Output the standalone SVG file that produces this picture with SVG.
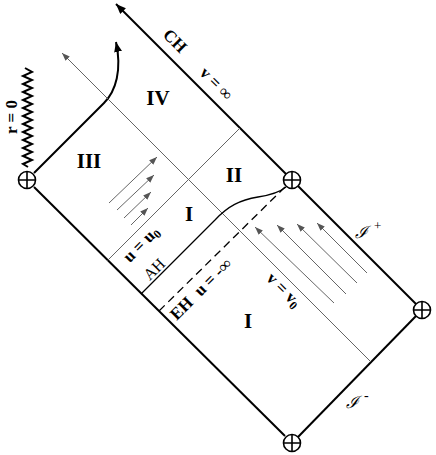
<svg xmlns="http://www.w3.org/2000/svg" width="436" height="455" viewBox="0 0 436 455">
<style>
.thick{stroke:#000;stroke-width:2;fill:none}
.thin{stroke:#666;stroke-width:1;fill:none}
.garr{stroke:#666;stroke-width:1;fill:none;marker-end:url(#ga)}
.blk{stroke:#000;stroke-width:1.3;fill:none}
.reg{font-family:"Liberation Serif",serif;font-weight:bold;font-size:21px;text-anchor:middle}
.lab{font-family:"Liberation Serif",serif;font-weight:bold;font-size:17px;text-anchor:middle}
.labn{font-family:"Liberation Serif",serif;font-size:16px;text-anchor:middle}
.scri{font-family:"DejaVu Serif",serif;font-style:italic;font-size:17px}
.pt circle{fill:#fff;stroke:#000;stroke-width:1.6}
.pt path{stroke:#000;stroke-width:1.6}
</style>
<defs>
<marker id="ga" markerUnits="userSpaceOnUse" markerWidth="10" markerHeight="8" refX="8" refY="3" orient="auto">
<path d="M0,0 L8,3 L0,6 Z" fill="#555"/>
</marker>
<marker id="ba" markerUnits="userSpaceOnUse" markerWidth="12" markerHeight="10" refX="10" refY="4" orient="auto">
<path d="M0,0 L10,4 L0,8 Z" fill="#000"/>
</marker>
</defs>
<g id="connectors">
<polyline class="thick" stroke-width="1.8" points="25,68 32,72 23,76 32,80 23,84 32,88 23,92 32,96 23,100 32,104 23,108 32,112 23,116 32,120 23,124 32,128 23,132 32,136 23,140 32,144 23,148 32,152 23,156 32,160 23,164 28,167"/>
<path class="thick" d="M34,173 L104,103 C116,91 122,70 116,42" marker-end="url(#ba)"/>
<line class="thick" x1="286" y1="174" x2="116" y2="4" marker-end="url(#ba)"/>
<line class="thick" x1="34" y1="187" x2="285" y2="436"/>
<line class="thick" x1="298" y1="186" x2="416" y2="304"/>
<line class="thick" x1="416" y1="316" x2="298" y2="437"/>
<line class="thin" x1="370.5" y1="361.5" x2="62" y2="53" marker-end="url(#ga)"/>
<line class="thin" x1="240" y1="128" x2="107.5" y2="260.5"/>
<path class="blk" d="M141,294 L215,220 C228,206 240,200 258,197 C271,195 280,192 286,187"/>
<line class="blk" x1="159" y1="311" x2="285" y2="187" stroke-dasharray="8,5"/>
<line class="garr" x1="109" y1="203" x2="157" y2="157"/>
<line class="garr" x1="117" y1="210" x2="154" y2="175"/>
<line class="garr" x1="124" y1="218" x2="151" y2="192"/>
<line class="garr" x1="131" y1="225" x2="148" y2="208"/>
<line class="garr" x1="334" y1="303" x2="255" y2="227"/>
<line class="garr" x1="346" y1="294" x2="277" y2="225"/>
<line class="garr" x1="357" y1="283" x2="297" y2="224"/>
<line class="garr" x1="367" y1="273" x2="317" y2="223"/>
</g>
<g id="pt-left" class="pt"><circle cx="27" cy="180" r="8.5"/><path d="M18.5,180 H35.5 M27,171.5 V188.5"/></g>
<g id="pt-top" class="pt"><circle cx="292" cy="180" r="8.5"/><path d="M283.5,180 H300.5 M292,171.5 V188.5"/></g>
<g id="pt-right" class="pt"><circle cx="422" cy="310" r="8.5"/><path d="M413.5,310 H430.5 M422,301.5 V318.5"/></g>
<g id="pt-bottom" class="pt"><circle cx="292" cy="443" r="8.5"/><path d="M283.5,443 H300.5 M292,434.5 V451.5"/></g>
<g id="labels">
<text class="reg" x="158" y="105">IV</text>
<text class="reg" x="89" y="168">III</text>
<text class="reg" x="234" y="182">II</text>
<text class="reg" x="189" y="221">I</text>
<text class="reg" x="248" y="328">I</text>
<text class="lab" transform="translate(11,117) rotate(-90)" y="5.5">r = 0</text>
<text class="lab" transform="translate(175,41) rotate(45)" y="5.5" font-size="16">CH</text>
<text class="lab" transform="translate(216,84) rotate(45)" y="5" font-size="16">v = <tspan font-weight="normal">∞</tspan></text>
<text class="lab" transform="translate(141,244) rotate(-45)" y="5.5">u = u<tspan font-size="12" dy="3">0</tspan></text>
<text class="labn" transform="translate(154,269) rotate(-45)" y="5.5">AH</text>
<text class="lab" transform="translate(203,287) rotate(-45)" x="-3" y="5.5">EH <tspan dx="5">u = -∞</tspan></text>
<text class="lab" transform="translate(284,290) rotate(45)" y="5.5">v = v<tspan font-size="12" dy="3">0</tspan></text>
<text class="scri" x="355" y="238">ℐ<tspan font-style="normal" font-family="Liberation Serif,serif" font-size="13" dy="-8" dx="6">+</tspan></text>
<text class="scri" x="346" y="408">ℐ<tspan font-style="normal" font-family="Liberation Serif,serif" font-size="14" dy="-8" dx="5">-</tspan></text>
</g>
</svg>
